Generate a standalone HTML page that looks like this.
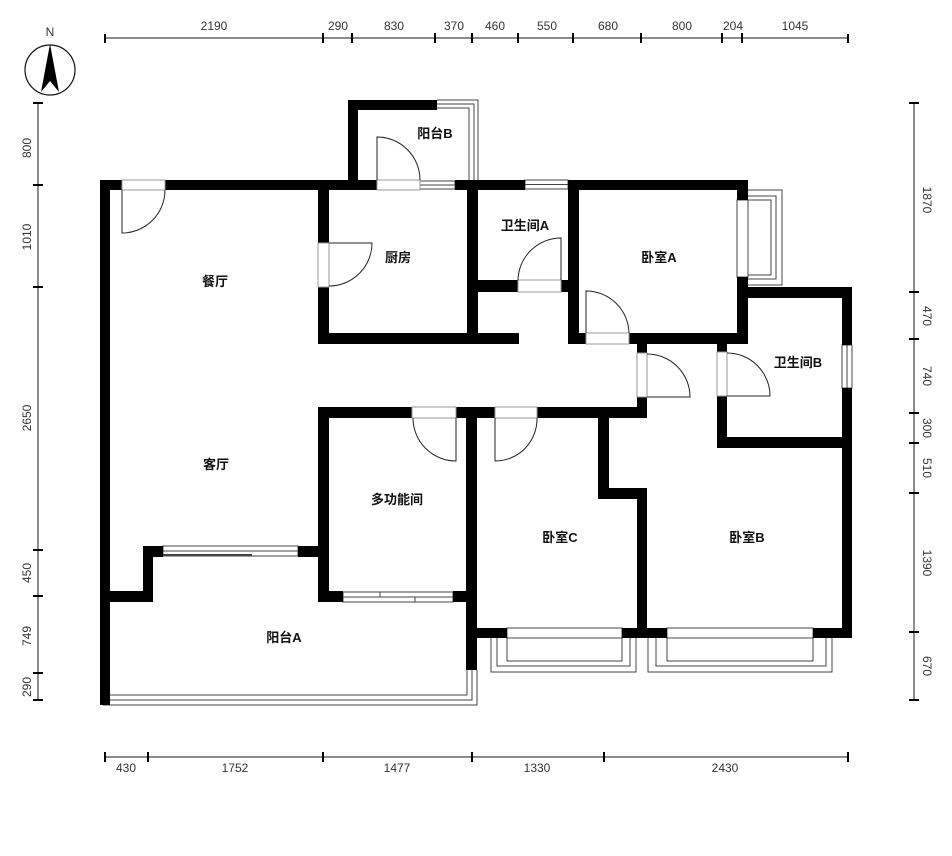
<!DOCTYPE html>
<html><head><meta charset="utf-8"><style>
html,body{margin:0;padding:0;background:#fff;width:952px;height:856px;overflow:hidden}
svg{display:block}
.d{font-family:"Liberation Sans",sans-serif;font-size:12px;fill:#333}
.r{font-family:"Liberation Sans","Noto Sans CJK SC",sans-serif;font-size:13px;font-weight:bold;fill:#111}
</style></head><body>
<svg width="952" height="856" viewBox="0 0 952 856" xmlns="http://www.w3.org/2000/svg">
<!-- compass -->
<text x="50" y="36" class="d" font-size="15" text-anchor="middle" fill="#111">N</text>
<circle cx="50" cy="70" r="25" fill="none" stroke="#111" stroke-width="1.2"/>
<polygon points="50,44 41,92 50,81 59,92" fill="#000"/>

<!-- top dims -->
<g stroke="#666" stroke-width="1.5"><line x1="105" y1="38" x2="848" y2="38"/></g>
<g stroke="#000" stroke-width="2">
<line x1="105" y1="34" x2="105" y2="43"/><line x1="323" y1="33" x2="323" y2="43"/><line x1="352" y1="33" x2="352" y2="43"/><line x1="435" y1="33" x2="435" y2="43"/><line x1="472" y1="33" x2="472" y2="43"/><line x1="518" y1="33" x2="518" y2="43"/><line x1="573" y1="33" x2="573" y2="43"/><line x1="641" y1="33" x2="641" y2="43"/><line x1="722" y1="33" x2="722" y2="43"/><line x1="742" y1="33" x2="742" y2="43"/><line x1="848" y1="34" x2="848" y2="43"/>
</g>
<g class="d" text-anchor="middle">
<text x="214" y="30">2190</text><text x="338" y="30">290</text><text x="394" y="30">830</text><text x="454" y="30">370</text><text x="495" y="30">460</text><text x="547" y="30">550</text><text x="608" y="30">680</text><text x="682" y="30">800</text><text x="733" y="30">204</text><text x="795" y="30">1045</text>
</g>
<!-- bottom dims -->
<g stroke="#666" stroke-width="1.5"><line x1="105" y1="757" x2="848" y2="757"/></g>
<g stroke="#000" stroke-width="2">
<line x1="105" y1="752" x2="105" y2="762"/><line x1="148" y1="752" x2="148" y2="762"/><line x1="323" y1="752" x2="323" y2="762"/><line x1="472" y1="752" x2="472" y2="762"/><line x1="604" y1="752" x2="604" y2="762"/><line x1="848" y1="752" x2="848" y2="762"/>
</g>
<g class="d" text-anchor="middle">
<text x="126" y="772">430</text><text x="235" y="772">1752</text><text x="397" y="772">1477</text><text x="537" y="772">1330</text><text x="725" y="772">2430</text>
</g>
<!-- left dims -->
<g stroke="#666" stroke-width="1.5"><line x1="38" y1="103" x2="38" y2="700"/></g>
<g stroke="#000" stroke-width="2">
<line x1="33" y1="103" x2="43" y2="103"/><line x1="33" y1="185" x2="43" y2="185"/><line x1="33" y1="287" x2="43" y2="287"/><line x1="33" y1="550" x2="43" y2="550"/><line x1="33" y1="596" x2="43" y2="596"/><line x1="33" y1="673" x2="43" y2="673"/><line x1="33" y1="700" x2="43" y2="700"/>
</g>
<g class="d" text-anchor="middle">
<text transform="translate(31,148) rotate(-90)">800</text>
<text transform="translate(31,237) rotate(-90)">1010</text>
<text transform="translate(31,418) rotate(-90)">2650</text>
<text transform="translate(31,573) rotate(-90)">450</text>
<text transform="translate(31,636) rotate(-90)">749</text>
<text transform="translate(31,687) rotate(-90)">290</text>
</g>
<!-- right dims -->
<g stroke="#666" stroke-width="1.5"><line x1="914" y1="103" x2="914" y2="700"/></g>
<g stroke="#000" stroke-width="2">
<line x1="909" y1="103" x2="919" y2="103"/><line x1="909" y1="292" x2="919" y2="292"/><line x1="909" y1="339" x2="919" y2="339"/><line x1="909" y1="413" x2="919" y2="413"/><line x1="909" y1="443" x2="919" y2="443"/><line x1="909" y1="493" x2="919" y2="493"/><line x1="909" y1="632" x2="919" y2="632"/><line x1="909" y1="700" x2="919" y2="700"/>
</g>
<g class="d" text-anchor="middle">
<text transform="translate(923,200) rotate(90)">1870</text>
<text transform="translate(923,316) rotate(90)">470</text>
<text transform="translate(923,376) rotate(90)">740</text>
<text transform="translate(923,428) rotate(90)">300</text>
<text transform="translate(923,468) rotate(90)">510</text>
<text transform="translate(923,563) rotate(90)">1390</text>
<text transform="translate(923,666) rotate(90)">670</text>
</g>

<!-- windows / bay windows (thin lines) -->
<g fill="none" stroke="#444" stroke-width="1">
<!-- balcony B window top/right -->
<path d="M437,100 H478 V182"/><path d="M437,104 H474 V182"/><path d="M437,108 H469 V182"/>
<rect x="420" y="181" width="35" height="8"/><line x1="420" y1="185" x2="455" y2="185"/>
<rect x="525" y="180" width="43" height="9"/><line x1="525" y1="184.5" x2="568" y2="184.5"/>
<!-- bedroom A bay -->
<rect x="737" y="200" width="11" height="77"/>
<path d="M748,190 H782 V285 H748"/><path d="M748,196 H776 V279 H748"/><path d="M748,200 H771 V275 H748"/>
<!-- bath B window -->
<rect x="842" y="345" width="10" height="43"/><line x1="847" y1="345" x2="847" y2="388"/>
<!-- sliding door living -->
<rect x="163" y="546" width="135" height="5"/><rect x="163" y="551" width="135" height="5"/>
<line x1="210" y1="546" x2="298" y2="546"/><line x1="163" y1="555" x2="252" y2="555" stroke-width="2"/>
<!-- sliding door multi -->
<rect x="343" y="592" width="110" height="5"/><rect x="343" y="597" width="110" height="5"/>
<rect x="380" y="592" width="73" height="5"/><rect x="343" y="597" width="72" height="5"/>
<!-- balcony A window -->
<path d="M103,705 H477 V670"/><path d="M106,700 H472 V670"/><path d="M108,695 H467 V670"/>
<!-- bedroom C bay -->
<rect x="507" y="628" width="115" height="10"/>
<path d="M491,638 V672 H636 V638"/><path d="M497,638 V666 H630 V638"/><path d="M507,638 V661 H622 V638"/>
<!-- bedroom B bay -->
<rect x="667" y="628" width="146" height="10"/>
<path d="M648,638 V672 H832 V638"/><path d="M656,638 V666 H826 V638"/><path d="M667,638 V661 H813 V638"/>
</g>

<!-- walls -->
<g fill="#000">
<rect x="100" y="180" width="22" height="10"/><rect x="165" y="180" width="212" height="10"/>
<rect x="455" y="180" width="70" height="10"/><rect x="568" y="180" width="180" height="10"/>
<rect x="100" y="180" width="10" height="525"/>
<rect x="348" y="100" width="10" height="85"/><rect x="348" y="100" width="89" height="10"/>
<rect x="318" y="180" width="11" height="63"/><rect x="318" y="287" width="11" height="56"/>
<rect x="318" y="333" width="201" height="11"/>
<rect x="467" y="180" width="11" height="163"/>
<rect x="478" y="280" width="40" height="12"/><rect x="561" y="280" width="10" height="12"/>
<rect x="568" y="180" width="11" height="164"/>
<rect x="568" y="333" width="18" height="11"/><rect x="629" y="333" width="119" height="11"/>
<rect x="737" y="180" width="11" height="20"/><rect x="737" y="277" width="11" height="67"/>
<rect x="637" y="333" width="10" height="20"/><rect x="637" y="397" width="10" height="21"/>
<rect x="737" y="287" width="115" height="11"/>
<rect x="842" y="287" width="10" height="58"/><rect x="842" y="388" width="10" height="250"/>
<rect x="717" y="333" width="10" height="19"/><rect x="717" y="396" width="10" height="52"/>
<rect x="717" y="437" width="135" height="11"/>
<rect x="318" y="407" width="94" height="11"/><rect x="456" y="407" width="39" height="11"/><rect x="537" y="407" width="110" height="11"/>
<rect x="318" y="407" width="11" height="195"/>
<rect x="318" y="591" width="25" height="11"/><rect x="453" y="591" width="13" height="11"/>
<rect x="466" y="407" width="11" height="263"/>
<rect x="143" y="546" width="20" height="11"/><rect x="143" y="546" width="10" height="56"/>
<rect x="110" y="591" width="43" height="11"/><rect x="298" y="546" width="20" height="11"/>
<rect x="598" y="418" width="11" height="81"/><rect x="598" y="488" width="49" height="11"/>
<rect x="637" y="488" width="10" height="150"/>
<rect x="476" y="628" width="31" height="10"/><rect x="622" y="628" width="45" height="10"/><rect x="813" y="628" width="39" height="10"/>
</g>

<!-- doors -->
<g fill="none" stroke="#222" stroke-width="1">
<rect x="122" y="180" width="43" height="10" stroke="#999"/>
<path d="M122,190 V233 A43,43 0 0 0 165,190"/>
<rect x="377" y="180" width="43" height="10" stroke="#999"/>
<path d="M377,180 V137 A43,43 0 0 1 420,180"/>
<rect x="318" y="243" width="11" height="44" stroke="#999"/>
<path d="M329,243 H372 A43,43 0 0 1 329,286"/>
<rect x="518" y="280" width="43" height="12" stroke="#999"/>
<path d="M561,280 V238 A43,43 0 0 0 518,280"/>
<rect x="586" y="333" width="43" height="11" stroke="#999"/>
<path d="M586,333 V291 A43,43 0 0 1 629,333"/>
<rect x="637" y="353" width="10" height="44" stroke="#999"/>
<path d="M647,397 H690 A43,43 0 0 0 647,354"/>
<rect x="717" y="352" width="10" height="44" stroke="#999"/>
<path d="M727,396 H770 A43,43 0 0 0 727,353"/>
<rect x="412" y="407" width="44" height="11" stroke="#999"/>
<path d="M456,418 V461 A43,43 0 0 1 413,418"/>
<rect x="495" y="407" width="42" height="11" stroke="#999"/>
<path d="M495,418 V461 A42,42 0 0 0 537,418"/>
</g>

<!-- room labels -->
<g class="r" text-anchor="middle">
<text x="435" y="138">阳台B</text>
<text x="398" y="262">厨房</text>
<text x="525" y="230">卫生间A</text>
<text x="659" y="262">卧室A</text>
<text x="215" y="286">餐厅</text>
<text x="798" y="367">卫生间B</text>
<text x="216" y="469">客厅</text>
<text x="397" y="504">多功能间</text>
<text x="560" y="542">卧室C</text>
<text x="747" y="542">卧室B</text>
<text x="284" y="642">阳台A</text>
</g>
</svg>
</body></html>
